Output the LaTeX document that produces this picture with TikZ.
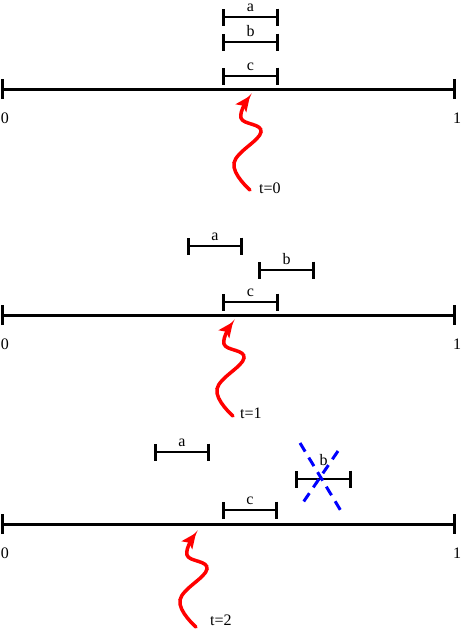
\documentclass[tikz,border=0pt]{standalone}
\usepackage{fontspec}
\setmainfont{Liberation Serif}
\usetikzlibrary{arrows.meta,positioning}
\definecolor{runInk}{HTML}{000000}
\definecolor{runRed}{HTML}{FF0000}
\definecolor{runBlue}{HTML}{0000FF}
\tikzset{
  every picture/.style={font=\fontsize{16}{19}\selectfont, text=runInk},
  run unit/.style={draw=runInk, line width=3pt, {Bar[width=20pt]}-{Bar[width=20pt]}},
  run span/.style={draw=runInk, line width=2.8pt, {Bar[width=17pt]}-{Bar[width=17pt]}},
  run tag/.style={above=4pt, inner sep=0pt},
  run end/.style={inner sep=0pt},
  run time/.style={anchor=west, inner sep=0pt},
  run pointer/.style={draw=runRed, line width=3.5pt, line cap=round,
    -{Stealth[length=15pt,width=13pt,inset=3pt]}},
  run cross/.style={draw=runBlue, line width=3pt, dash pattern=on 10pt off 7pt},
  squiggle/.pic={
    \draw[run pointer] plot[smooth, tension=0.7]
      coordinates {(0,94) (-16,67) (11,36) (-9,22) (0,0)};
  }
}

\begin{document}
\begin{tikzpicture}[x=1pt,y=-1pt]
  \useasboundingbox (0,0) rectangle (462,629);

  % the unit interval, once per step
  \foreach \y in {89,315,524} {
    \draw[run unit] (1,\y) -- (456,\y);
    \node[run end] at (5,\y+29) {0};
    \node[run end] at (457,\y+29) {1};
  }

  % t=0
  \draw[run span] (222,17) -- (279,17) node[midway,run tag] (a0) {a};
  \draw[run span] (222,42) -- (279,42) node[midway,run tag] (b0) {b};
  \draw[run span] (222,76) -- (279,76) node[midway,run tag] (c0) {c};
  \coordinate (tip0) at (250,96);
  \pic at (tip0) {squiggle};
  \node[run time] (time0) at (259,188) {t=0};

  % t=1
  \draw[run span] (187,246) -- (243,246) node[midway,run tag] (a1) {a};
  \draw[run span] (258,270) -- (315,270) node[midway,run tag] (b1) {b};
  \draw[run span] (222,302) -- (279,302) node[midway,run tag] (c1) {c};
  \coordinate (tip1) at (233,322);
  \pic at (tip1) {squiggle};
  \node[run time] (time1) at (240,413) {t=1};

  % t=2
  \draw[run span] (154,452) -- (210,452) node[midway,run tag] (a2) {a};
  \draw[run span] (295,479) -- (352,479) node[midway,run tag,above=12pt] (b2) {b};
  \draw[run span] (222,510) -- (278,510) node[midway,run tag] (c2) {c};
  \coordinate (tip2) at (196,533);
  \pic at (tip2) {squiggle};
  \node[run time] (time2) at (210,620) {t=2};

  % b is gone
  \draw[run cross] (300,443) -- (341,511);
  \draw[run cross] (338,451) -- (300,507);
\end{tikzpicture}
\end{document}
